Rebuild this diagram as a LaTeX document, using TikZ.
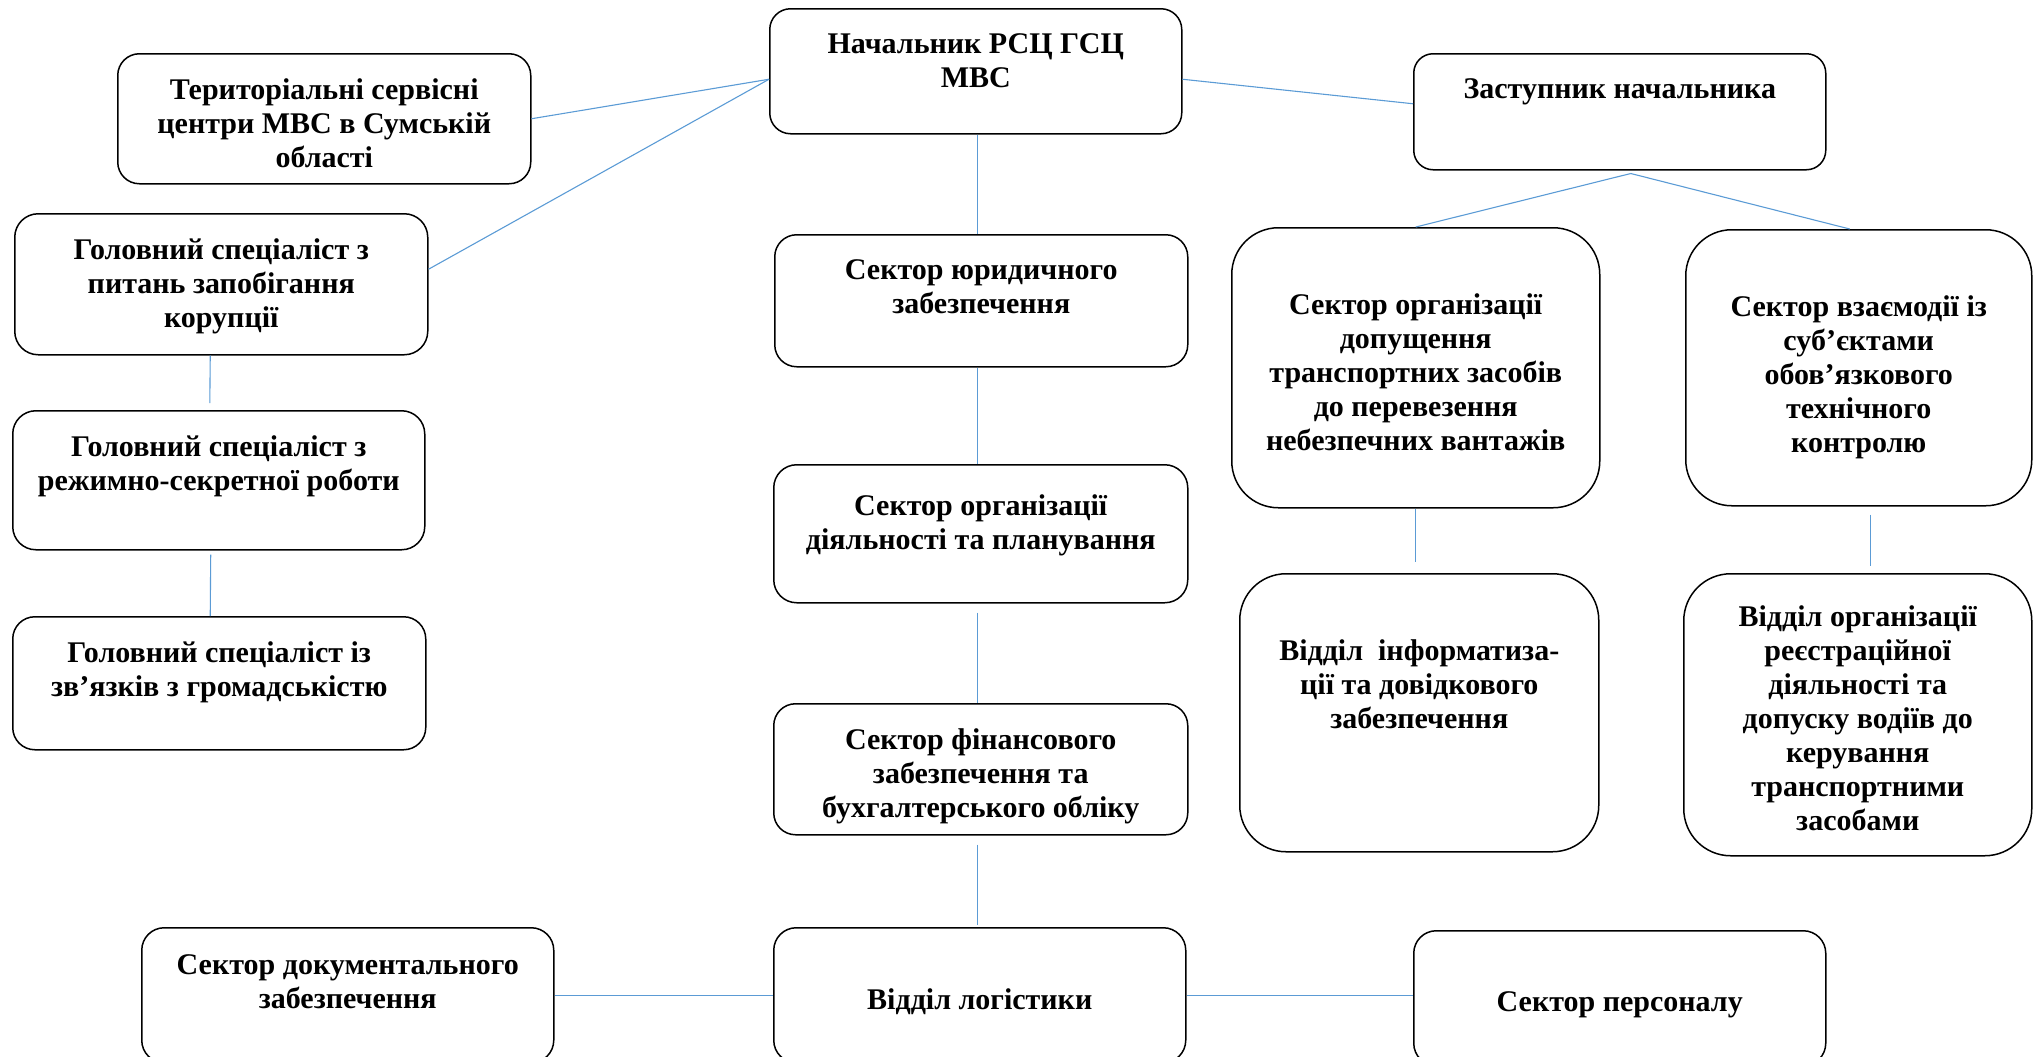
\documentclass[tikz,border=0pt]{standalone}
\usepackage{fontspec}
\setmainfont{Liberation Serif}
\usepackage{xcolor}
\usepackage{tikz}
\usetikzlibrary{calc}
\definecolor{frame}{HTML}{000000}
\definecolor{linkblue}{HTML}{5B9BD5}
\tikzset{
  unit/.style={draw=frame, line width=0.75pt, rectangle, inner sep=0pt},
  unittext/.style={anchor=north, inner sep=0pt, align=center,
    font=\bfseries\fontsize{15}{17}\selectfont},
  link/.style={draw=linkblue, line width=0.55pt}
}
% [#1] text offset, #2 name, #3 x, #4 y (top left), #5 width, #6 height, #7 text
\newcommand{\Unit}[7][25]{%
  \node[unit, anchor=north west, minimum width=#5*0.5pt, minimum height=#6*0.5pt,
    rounded corners={min(#5,#6)*0.0833pt}] (#2) at (#3,#4) {};
  \node[unittext] (#2-txt) at ($(#2.north)+(0,#1)$) {#7};
}

\begin{document}
\begin{tikzpicture}[x=0.5pt,y=-0.5pt]
  \useasboundingbox (0,0) rectangle (2040,1056);
  % left column
  \Unit{teryt}{117}{53}{413}{130}{Територіальні сервісні\\центри МВС в Сумській\\області}
  \Unit{zapob}{14}{213}{413}{141}{Головний спеціаліст з\\питань запобігання\\корупції}
  \Unit{rezhym}{12}{410}{412}{139}{Головний спеціаліст з\\режимно-секретної роботи}
  \Unit{zviaz}{12}{616}{413}{133}{Головний спеціаліст із\\зв’язків з громадськістю}
  % middle column
  \Unit{nach}{769}{8}{412}{125}{Начальник РСЦ ГСЦ\\МВС}
  \Unit{yuryd}{774}{234}{413}{132}{Сектор юридичного\\забезпечення}
  \Unit[30]{orgdiial}{773}{464}{414}{138}{Сектор організації\\діяльності та планування}
  \Unit{finans}{773}{703}{414}{131}{Сектор фінансового\\забезпечення та\\бухгалтерського обліку}
  % bottom row
  \Unit[27]{dokum}{141}{927}{412}{135}{Сектор документального\\забезпечення}
  \Unit[61]{logist}{773}{927}{412}{135}{Відділ логістики}
  \Unit[61]{person}{1413}{930}{412}{135}{Сектор персоналу}
  % right part
  \Unit{zast}{1413}{53}{412}{116}{Заступник начальника}
  \Unit[66]{dopusch}{1231}{227}{368}{280}{Сектор організації\\допущення\\транспортних засобів\\до перевезення\\небезпечних вантажів}
  \Unit[66]{vzaiem}{1685}{229}{346}{276}{Сектор взаємодії із\\суб’єктами\\обов’язкового\\технічного\\контролю}
  \Unit[66]{inform}{1239}{573}{359}{278}{Відділ\ \ інформатиза-\\ції та довідкового\\забезпечення}
  \Unit[32]{reiestr}{1683}{573}{348}{282}{Відділ організації\\реєстраційної\\діяльності та\\допуску водіїв до\\керування\\транспортними\\засобами}

  \coordinate (nachL) at ($(nach.west)+(0,8)$);
  \coordinate (nachR) at ($(nach.east)+(0,8)$);
  \coordinate (nachB) at ($(nach.south)+(2,0)$);
  \coordinate (zastB) at ($(zast.south)+(11,3)$);
  \draw[link] (nachL) -- (teryt.east);
  \draw[link] (nachL) -- ($(zapob.east)+(0,-15)$);
  \draw[link] (nachR) -- ($(zast.west)+(0,-8)$);
  \draw[link] (nachB) -- (nachB |- yuryd.north);
  \draw[link] (nachB |- yuryd.south) -- (nachB |- orgdiial.north);
  \draw[link, shorten <=4.5pt] (nachB |- orgdiial.south) -- (nachB |- finans.north);
  \draw[link, shorten <=4.5pt, shorten >=1pt] (nachB |- finans.south) -- (nachB |- logist.north);
  \draw[link, shorten >=3.5pt] ($(zapob.south)+(-11,0)$) -- ($(rezhym.north)+(-9,0)$);
  \draw[link, shorten <=2pt] ($(rezhym.south)+(-8,0)$) -- ($(zviaz.north)+(-9,0)$);
  \draw[link] (zastB) -- (dopusch.north);
  \draw[link] (zastB) -- ($(vzaiem.north)+(-9,0)$);
  \draw[link, shorten >=5.5pt] (dopusch.south) -- (dopusch.south |- inform.north);
  \draw[link, shorten <=4pt, shorten >=3.5pt] ($(vzaiem.south)+(12,0)$) -- ($(reiestr.north)+(13,0)$);
  \draw[link] (dokum.east) -- (logist.west);
  \draw[link] (logist.east) -- (logist.east -| person.west);
\end{tikzpicture}
\end{document}
